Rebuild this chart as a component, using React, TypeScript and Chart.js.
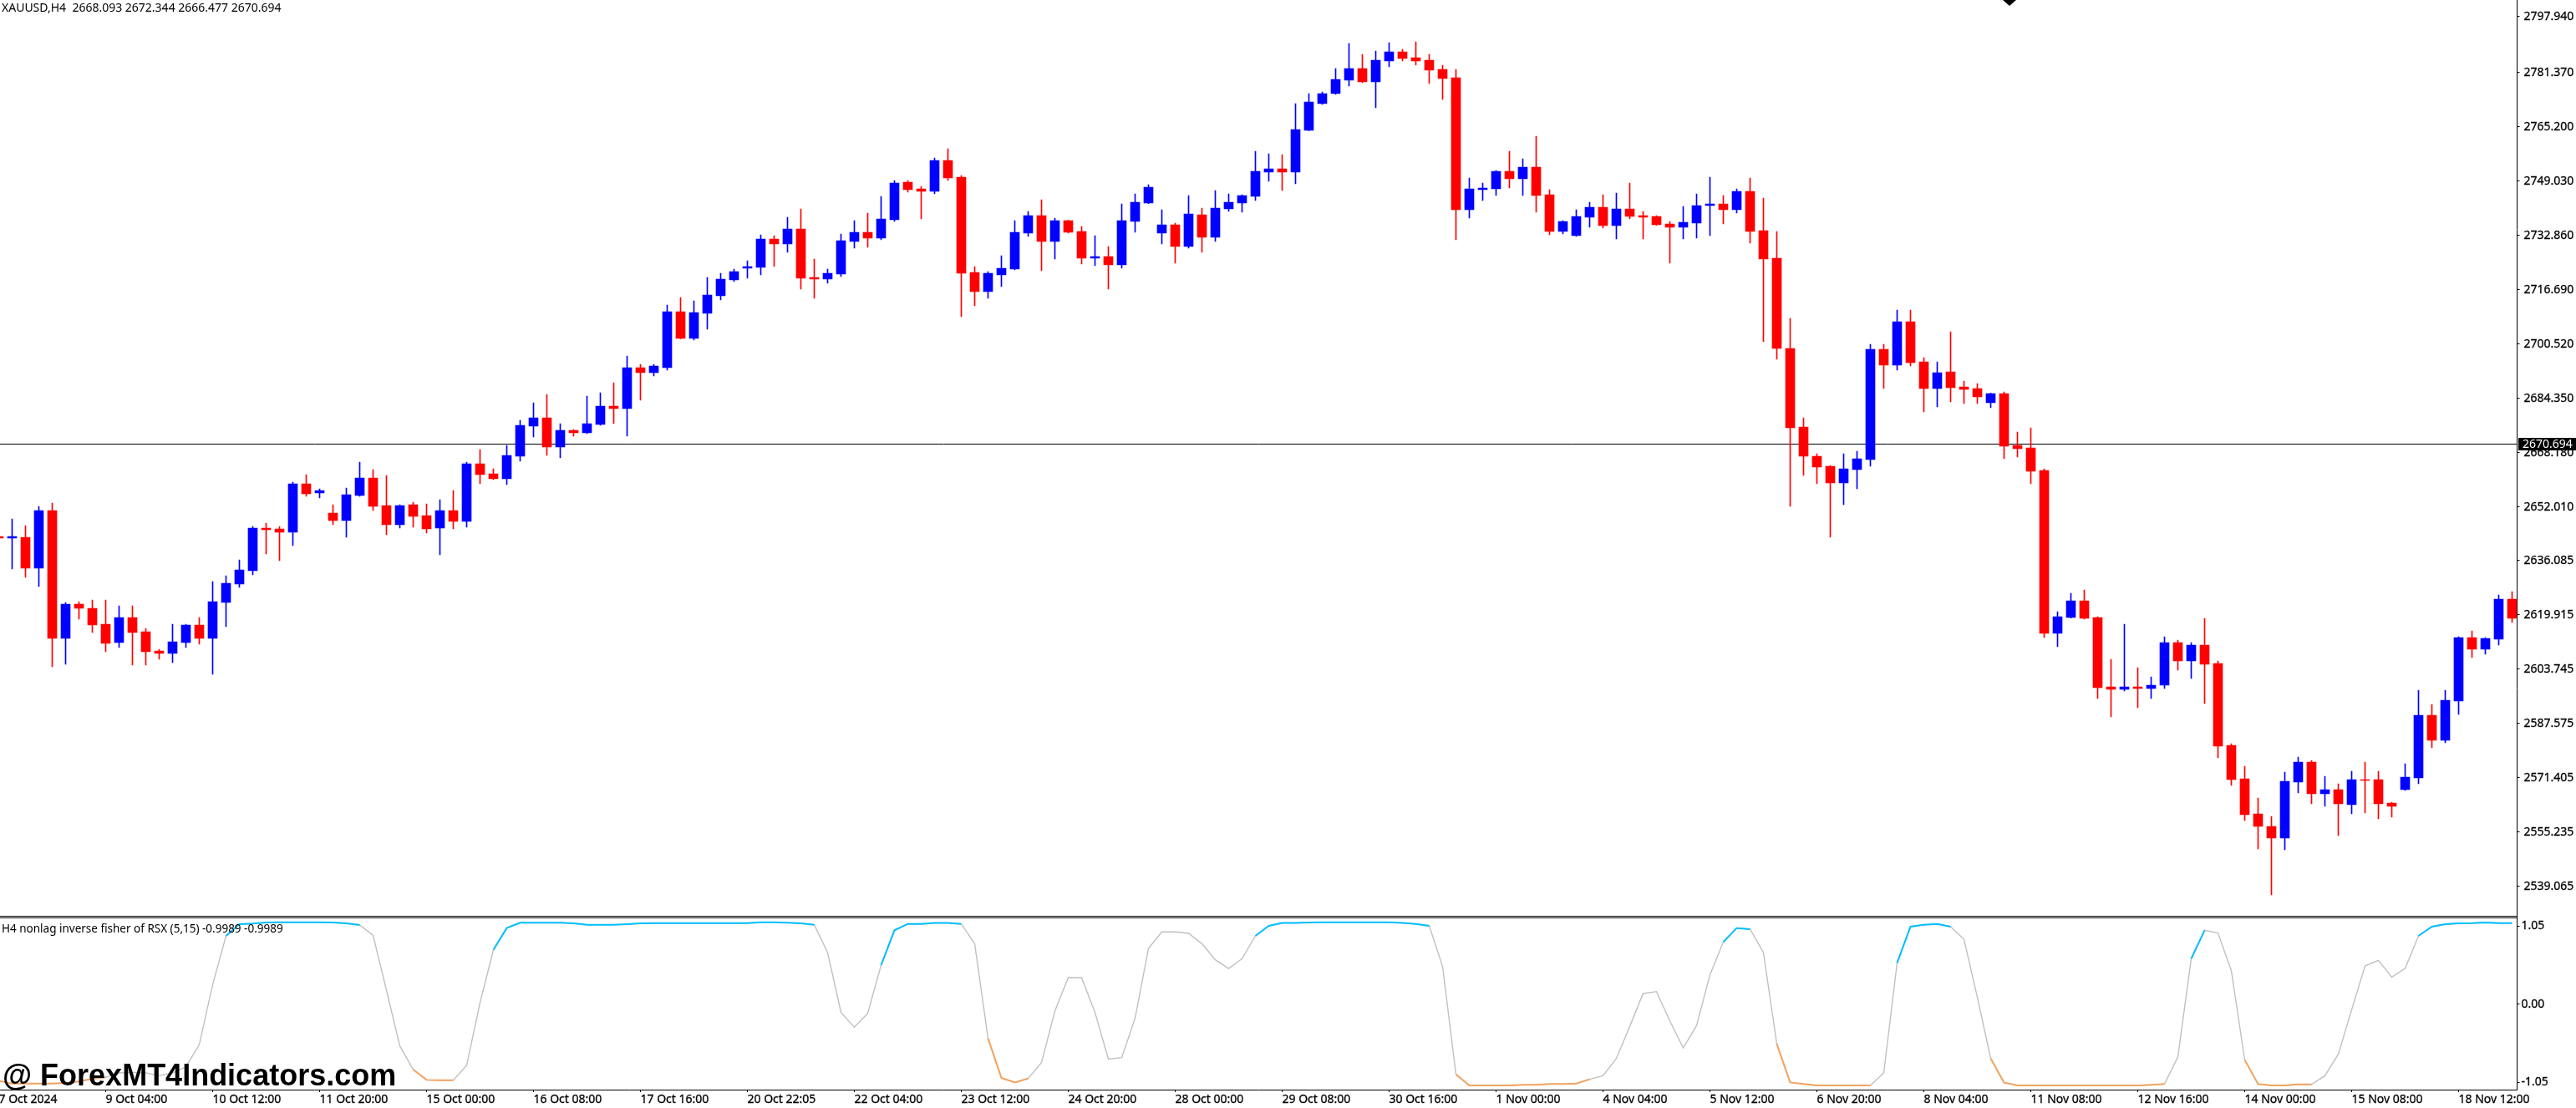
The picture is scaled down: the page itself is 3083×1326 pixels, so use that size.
import React, { useEffect, useRef } from "react";
import Chart from "chart.js/auto";

const symbolCaption = "XAUUSD,H4  2668.093 2672.344 2666.477 2670.694";
const indicatorCaption = "H4 nonlag inverse fisher of RSX (5,15) -0.9989 -0.9989";
const watermark = "@ ForexMT4Indicators.com";
const lastPrice = 2670.694;

const opens = [
	2643.2, 2642.7, 2642.95, 2633.75, 2650.91, 2612.85, 2623.05, 2621.81, 2617.08, 2611.61,
	2619.07, 2614.84, 2609.12, 2608.38, 2611.61, 2616.83, 2612.85, 2623.55, 2629.02, 2633.0,
	2645.69, 2645.44, 2644.45, 2658.87, 2656.14, 2650.17, 2647.93, 2655.39, 2660.61, 2652.41,
	2646.68, 2652.65, 2649.42, 2645.69, 2650.91, 2647.68, 2664.85, 2661.86, 2660.37, 2667.09,
	2676.04, 2678.53, 2669.82, 2674.8, 2674.05, 2676.54, 2682.02, 2681.27, 2693.46, 2691.97,
	2693.46, 2710.13, 2702.17, 2709.63, 2714.85, 2719.58, 2723.06, 2723.31, 2731.77, 2730.28,
	2734.75, 2720.33, 2719.83, 2721.32, 2731.02, 2733.76, 2732.02, 2737.49, 2748.68, 2746.69,
	2745.95, 2755.15, 2750.18, 2721.82, 2716.1, 2721.07, 2722.81, 2733.51, 2738.73, 2731.02,
	2737.24, 2734.01, 2726.05, 2726.54, 2724.06, 2736.99, 2742.47, 2733.51, 2736.0, 2729.53,
	2738.98, 2732.27, 2740.72, 2742.47, 2744.45, 2751.67, 2752.66, 2751.67, 2764.11, 2772.07,
	2775.05, 2779.03, 2782.51, 2778.53, 2784.75, 2787.49, 2785.75, 2785.0, 2782.27, 2779.78,
	2740.47, 2746.44, 2746.69, 2751.92, 2749.68, 2753.16, 2744.95, 2734.01, 2732.76, 2738.24,
	2741.22, 2735.75, 2740.72, 2738.73, 2738.48, 2736.25, 2735.25, 2736.49, 2741.72, 2742.22,
	2740.47, 2745.95, 2734.26, 2726.05, 2699.17, 2675.79, 2667.08, 2664.1, 2659.12, 2663.1,
	2666.09, 2698.92, 2694.2, 2707.13, 2695.19, 2687.23, 2692.21, 2687.73, 2687.23, 2683.0,
	2685.74, 2670.32, 2669.57, 2662.85, 2614.35, 2619.07, 2624.05, 2619.07, 2598.43, 2597.68,
	2598.43, 2597.93, 2598.92, 2611.61, 2606.14, 2610.86, 2605.39, 2581.01, 2571.06, 2560.62,
	2556.88, 2553.4, 2570.07, 2576.04, 2566.58, 2567.83, 2563.35, 2570.81, 2570.81, 2563.85,
	2567.83, 2571.31, 2589.97, 2582.51, 2594.2, 2613.1, 2609.62, 2612.61, 2624.55,
];
const highs = [
	2643.5, 2648.43, 2646.44, 2652.16, 2653.15, 2623.55, 2623.8, 2624.3, 2624.3, 2622.55,
	2622.55, 2615.84, 2609.62, 2617.08, 2617.08, 2619.07, 2629.77, 2631.51, 2636.24, 2646.19,
	2647.18, 2646.19, 2659.37, 2661.61, 2657.38, 2652.65, 2657.63, 2665.3, 2663.1, 2661.36,
	2652.65, 2653.4, 2652.9, 2654.15, 2656.88, 2665.35, 2669.08, 2663.36, 2670.32, 2677.78,
	2683.01, 2685.5, 2676.79, 2675.05, 2685.0, 2685.99, 2688.98, 2696.94, 2694.45, 2694.45,
	2712.12, 2714.36, 2713.36, 2720.33, 2721.57, 2722.81, 2725.3, 2733.01, 2732.76, 2738.24,
	2740.72, 2725.8, 2722.81, 2733.26, 2737.24, 2739.48, 2744.46, 2749.18, 2749.18, 2747.44,
	2755.9, 2758.63, 2750.67, 2723.56, 2722.07, 2726.79, 2737.24, 2739.98, 2743.46, 2737.99,
	2737.4, 2735.5, 2732.76, 2729.53, 2742.22, 2745.2, 2747.94, 2740.48, 2736.5, 2744.7,
	2740.97, 2746.2, 2745.2, 2744.9, 2757.89, 2757.14, 2756.89, 2772.07, 2775.05, 2775.55,
	2782.51, 2789.98, 2786.74, 2787.74, 2790.23, 2788.24, 2790.47, 2786.74, 2783.51, 2782.27,
	2749.93, 2748.43, 2752.17, 2757.89, 2755.65, 2762.37, 2746.44, 2737.2, 2740.47, 2742.71,
	2744.95, 2745.45, 2748.43, 2739.98, 2738.73, 2736.99, 2741.47, 2745.2, 2750.18, 2744.7,
	2746.69, 2749.93, 2743.96, 2734.01, 2708.13, 2678.53, 2667.83, 2664.35, 2667.83, 2668.58,
	2700.42, 2700.42, 2710.62, 2710.62, 2696.44, 2695.19, 2704.15, 2689.47, 2688.73, 2685.9,
	2686.24, 2674.3, 2675.54, 2663.35, 2620.81, 2626.29, 2627.28, 2619.3, 2606.64, 2617.08,
	2604.15, 2601.41, 2613.35, 2612.36, 2611.61, 2618.82, 2606.14, 2581.51, 2574.79, 2565.34,
	2559.87, 2573.05, 2577.53, 2576.54, 2571.81, 2569.57, 2573.3, 2576.04, 2573.3, 2564.0,
	2575.54, 2597.43, 2593.2, 2597.43, 2613.35, 2615.09, 2613.1, 2625.79, 2626.78,
];
const lows = [
	2642.4, 2633.5, 2631.01, 2628.28, 2604.4, 2605.14, 2618.57, 2614.59, 2608.87, 2610.12,
	2604.89, 2604.89, 2606.63, 2605.64, 2610.12, 2611.11, 2602.16, 2616.34, 2628.03, 2631.76,
	2637.98, 2635.99, 2640.47, 2655.14, 2654.64, 2646.68, 2642.95, 2655.14, 2650.91, 2643.7,
	2645.69, 2645.94, 2644.2, 2637.73, 2645.44, 2645.94, 2658.88, 2660.12, 2658.63, 2665.59,
	2672.81, 2667.34, 2666.59, 2673.06, 2673.8, 2676.29, 2676.79, 2673.06, 2683.76, 2690.97,
	2692.71, 2702.0, 2701.67, 2704.9, 2713.61, 2719.08, 2720.08, 2721.07, 2723.56, 2727.79,
	2716.84, 2714.11, 2718.58, 2720.57, 2729.03, 2729.28, 2731.52, 2736.99, 2745.7, 2737.74,
	2745.2, 2749.18, 2708.63, 2711.87, 2714.11, 2717.59, 2722.6, 2732.52, 2722.32, 2725.8,
	2733.51, 2724.31, 2723.81, 2716.84, 2723.06, 2733.76, 2742.3, 2730.28, 2724.55, 2729.03,
	2727.79, 2731.02, 2739.98, 2739.73, 2743.21, 2748.93, 2746.2, 2748.19, 2764.0, 2771.82,
	2774.8, 2777.29, 2778.29, 2770.82, 2783.01, 2784.75, 2783.51, 2778.04, 2773.31, 2731.52,
	2737.99, 2743.21, 2744.7, 2746.94, 2744.7, 2739.73, 2733.01, 2733.26, 2732.51, 2735.25,
	2735.0, 2731.77, 2737.74, 2731.77, 2735.8, 2724.55, 2731.77, 2732.02, 2732.76, 2736.25,
	2739.48, 2730.52, 2701.17, 2695.94, 2652.16, 2661.36, 2658.87, 2642.95, 2652.65, 2657.38,
	2664.1, 2687.23, 2692.71, 2693.95, 2680.27, 2681.76, 2683.25, 2682.76, 2682.76, 2681.51,
	2666.34, 2666.83, 2658.87, 2613.1, 2610.37, 2618.9, 2618.58, 2594.94, 2589.47, 2597.18,
	2592.21, 2594.94, 2597.93, 2603.4, 2600.91, 2593.45, 2577.28, 2569.07, 2558.62, 2550.17,
	2536.48, 2549.92, 2566.83, 2563.6, 2562.85, 2554.15, 2560.62, 2560.86, 2559.12, 2559.62,
	2567.6, 2569.57, 2580.27, 2581.76, 2590.22, 2607.13, 2608.13, 2610.86, 2617.58,
];
const closes = [
	2642.7, 2643.2, 2633.75, 2650.91, 2612.85, 2623.05, 2621.81, 2616.83, 2611.36, 2619.07,
	2614.59, 2608.87, 2608.38, 2611.86, 2616.83, 2612.85, 2623.8, 2629.27, 2633.25, 2645.69,
	2645.19, 2644.45, 2658.87, 2655.89, 2656.88, 2647.93, 2655.64, 2660.61, 2652.16, 2646.68,
	2652.41, 2649.17, 2645.44, 2650.91, 2647.68, 2664.85, 2661.61, 2660.37, 2667.34, 2676.29,
	2678.53, 2669.82, 2674.8, 2674.05, 2676.79, 2682.01, 2681.27, 2693.46, 2691.97, 2693.96,
	2710.13, 2702.17, 2709.88, 2715.1, 2719.83, 2722.07, 2723.56, 2731.77, 2730.28, 2734.75,
	2720.08, 2719.83, 2721.57, 2731.27, 2733.76, 2732.02, 2737.74, 2748.44, 2746.45, 2745.95,
	2755.15, 2749.93, 2721.57, 2716.1, 2721.57, 2723.06, 2733.76, 2738.73, 2731.02, 2737.24,
	2733.76, 2726.05, 2726.54, 2724.06, 2737.24, 2742.71, 2747.19, 2736.0, 2729.53, 2739.23,
	2732.27, 2740.97, 2742.71, 2744.7, 2751.92, 2752.66, 2751.67, 2764.35, 2772.56, 2775.05,
	2779.28, 2782.51, 2778.53, 2785.0, 2787.49, 2785.5, 2784.75, 2782.02, 2779.53, 2740.47,
	2746.69, 2746.94, 2751.92, 2749.68, 2753.16, 2744.7, 2734.01, 2736.99, 2738.48, 2741.22,
	2735.75, 2740.72, 2738.48, 2738.24, 2736.0, 2735.25, 2736.74, 2741.72, 2742.22, 2740.47,
	2745.95, 2734.01, 2725.8, 2699.18, 2675.54, 2667.08, 2663.85, 2659.12, 2663.35, 2666.34,
	2698.92, 2694.2, 2707.13, 2694.94, 2687.23, 2691.96, 2687.48, 2686.98, 2684.74, 2685.74,
	2670.07, 2669.32, 2662.61, 2614.35, 2619.32, 2624.05, 2618.82, 2598.18, 2597.68, 2598.43,
	2597.93, 2598.92, 2611.61, 2606.14, 2610.86, 2605.14, 2580.76, 2570.81, 2560.37, 2556.88,
	2553.4, 2570.32, 2576.04, 2566.58, 2567.83, 2563.6, 2570.81, 2570.56, 2563.6, 2562.85,
	2571.56, 2589.97, 2582.51, 2594.45, 2613.1, 2609.62, 2612.85, 2624.55, 2618.82,
];

const rsxValues = [
	-1.031, -1.069, -1.069, -1.069, -1.069, -1.061, -1.042, -1.005, -0.986, -0.926,
	-0.919, -0.926, -0.964, -0.926, -0.844, -0.544, 0.263, 0.919, 1.077, 1.084,
	1.099, 1.103, 1.103, 1.103, 1.103, 1.099, 1.088, 1.065, 0.926, 0.188,
	-0.562, -0.881, -1.02, -1.024, -1.024, -0.825, 0.019, 0.731, 1.024, 1.095,
	1.095, 1.095, 1.095, 1.088, 1.069, 1.069, 1.069, 1.077, 1.088, 1.091,
	1.091, 1.091, 1.091, 1.091, 1.091, 1.091, 1.091, 1.103, 1.103, 1.095,
	1.088, 1.069, 0.694, -0.112, -0.311, -0.124, 0.525, 0.994, 1.08, 1.08,
	1.092, 1.092, 1.08, 0.814, -0.461, -0.994, -1.054, -1.001, -0.787, -0.094,
	0.357, 0.357, -0.112, -0.739, -0.72, -0.187, 0.75, 0.972, 0.972, 0.953,
	0.814, 0.597, 0.48, 0.612, 0.919, 1.054, 1.092, 1.092, 1.099, 1.103,
	1.103, 1.103, 1.103, 1.103, 1.103, 1.092, 1.08, 1.054, 0.507, -0.945,
	-1.095, -1.095, -1.095, -1.095, -1.087, -1.087, -1.076, -1.076, -1.069, -1.012,
	-0.964, -0.731, -0.3, 0.143, 0.169, -0.225, -0.589, -0.289, 0.394, 0.837,
	1.024, 1.009, 0.694, -0.536, -1.054, -1.076, -1.095, -1.095, -1.095, -1.095,
	-1.095, -0.926, 0.555, 1.043, 1.069, 1.08, 1.043, 0.874, 0.094, -0.731,
	-1.057, -1.095, -1.095, -1.095, -1.095, -1.095, -1.095, -1.095, -1.095, -1.095,
	-1.095, -1.087, -1.076, -0.712, 0.612, 0.994, 0.957, 0.45, -0.75, -1.076,
	-1.095, -1.095, -1.08, -1.08, -0.964, -0.675, -0.075, 0.514, 0.589, 0.364,
	0.48, 0.919, 1.043, 1.077, 1.088, 1.091, 1.099, 1.091, 1.091,
];
// first and last bar of each coloured stretch of the indicator
const upRuns = [[17, 27], [37, 61], [66, 72], [94, 107], [129, 131], [142, 146], [164, 165], [181, 188]];
const downRuns = [[0, 8], [31, 34], [74, 77], [109, 119], [133, 140], [149, 162], [168, 173]];

const priceTicks = [
	2797.94, 2781.37, 2765.2, 2749.03, 2732.86, 2716.69, 2700.52, 2684.35, 2668.18,
	2652.01, 2636.085, 2619.915, 2603.745, 2587.575, 2571.405, 2555.235, 2539.065,
];
const rsxTicks = [1.05, 0, -1.05];
const timeLabels = [
	"7 Oct 2024", "9 Oct 04:00", "10 Oct 12:00", "11 Oct 20:00", "15 Oct 00:00", "16 Oct 08:00",
	"17 Oct 16:00", "20 Oct 22:05", "22 Oct 04:00", "23 Oct 12:00", "24 Oct 20:00", "28 Oct 00:00",
	"29 Oct 08:00", "30 Oct 16:00", "1 Nov 00:00", "4 Nov 04:00", "5 Nov 12:00", "6 Nov 20:00",
	"8 Nov 04:00", "11 Nov 08:00", "12 Nov 16:00", "14 Nov 00:00", "15 Nov 08:00", "18 Nov 12:00",
];
const barsPerLabel = 8;

const BLUE = "#0000ff";
const RED = "#ff0000";
const AXIS_FONT = { family: "'Noto Sans'", size: 14 };
const TEXT_WEIGHT = { textStrokeColor: "#000", textStrokeWidth: 0.3 };
const X_MIN = 0.09375;
const X_MAX = 188.375;

const inRuns = (i: number, runs: number[][]) => runs.some(([a, b]) => i >= a && i <= b);
const rsxPoints = (runs?: number[][]) =>
	rsxValues.map((v, i) => ({ x: i, y: !runs || inRuns(i, runs) ? v : null }));

// keeps the axes at the sizes of the terminal window, no label padding around the plot
const fixAxis = (size: { width?: number; height?: number }) => (scale: any) => {
	if (size.width) scale.width = size.width;
	if (size.height) scale.height = size.height;
	scale.paddingLeft = scale.paddingRight = scale.paddingTop = scale.paddingBottom = 0;
};

const overlay = {
	id: "overlay",
	afterDraw(chart: any) {
		const { ctx, scales } = chart;
		ctx.save();
		ctx.fillStyle = "#000";
		// double line between the two panes
		ctx.fillRect(0, scales.y.bottom - 1, 3013, 1);
		ctx.fillRect(0, scales.y.bottom + 1, 3013, 1);
		// object arrow cut off by the window top
		ctx.beginPath();
		ctx.moveTo(2397, 0);
		ctx.lineTo(2413, 0);
		ctx.lineTo(2405, 7);
		ctx.fill();

		ctx.textBaseline = "middle";
		ctx.font = "14px 'Noto Sans'";
		ctx.fillText(symbolCaption, 2, 10);
		ctx.font = "13.5px 'Noto Sans'";
		ctx.fillText(indicatorCaption, 2, 1112);
		ctx.font = "bold 36px 'Liberation Sans'";
		ctx.textBaseline = "alphabetic";
		ctx.fillText(watermark, 3, 1299);

		// current price tag
		const py = Math.round(scales.y.getPixelForValue(lastPrice));
		ctx.fillRect(3014, py - 7, 69, 15);
		ctx.fillStyle = "#fff";
		ctx.textBaseline = "middle";
		ctx.font = "14px 'Noto Sans'";
		ctx.fillText(lastPrice.toFixed(3), 3019, py + 1);
		ctx.restore();
	},
};

const App: React.FC = () => {
	const chartRef = useRef<HTMLCanvasElement>(null);

	useEffect(() => {
		if (!chartRef.current) return;
		const barColors = closes.map((c, i) => (c >= opens[i] ? BLUE : RED));
		const chart = new Chart(chartRef.current, {
			type: "bar",
			data: {
				datasets: [
					{
						label: "body",
						data: opens.map((o, i) => ({ x: i, y: [o, closes[i]] })) as any,
						backgroundColor: barColors,
						barThickness: 11,
						grouped: false,
						yAxisID: "y",
						order: 1,
					},
					{
						label: "wick",
						data: lows.map((l, i) => ({ x: i, y: [l, highs[i]] })) as any,
						backgroundColor: barColors,
						barThickness: 1,
						grouped: false,
						yAxisID: "y",
						order: 2,
					},
					{
						type: "line",
						label: "last price",
						data: [{ x: X_MIN, y: lastPrice }, { x: X_MAX, y: lastPrice }],
						borderColor: "#000",
						borderWidth: 1,
						pointRadius: 0,
						yAxisID: "y",
						order: 3,
					},
					{
						type: "line",
						label: "rsx up",
						data: rsxPoints(upRuns) as any,
						borderColor: "#00bfff",
						borderWidth: 2,
						pointRadius: 0,
						spanGaps: false,
						yAxisID: "y2",
						order: 4,
					},
					{
						type: "line",
						label: "rsx down",
						data: rsxPoints(downRuns) as any,
						borderColor: "#f4a460",
						borderWidth: 2,
						pointRadius: 0,
						spanGaps: false,
						yAxisID: "y2",
						order: 5,
					},
					{
						type: "line",
						label: "rsx",
						data: rsxPoints() as any,
						borderColor: "#c0c0c0",
						borderWidth: 1.4,
						pointRadius: 0,
						yAxisID: "y2",
						order: 6,
					},
				],
			},
			options: {
				responsive: false,
				animation: false,
				devicePixelRatio: 1,
				layout: { padding: 0 },
				plugins: { legend: { display: false }, tooltip: { enabled: false }, title: { display: false } },
				scales: {
					x: {
						type: "linear",
						min: X_MIN,
						max: X_MAX,
						bounds: "data",
						offset: false,
						afterFit: fixAxis({ height: 22 }),
						afterBuildTicks: (scale: any) => {
							scale.ticks = timeLabels.map((_, i) => ({ value: i * barsPerLabel }));
						},
						grid: { drawOnChartArea: false, tickLength: 3, color: "#000", offset: false },
						border: { color: "#000" },
						ticks: {
							autoSkip: false,
							maxRotation: 0,
							align: "start",
							padding: 1,
							color: "#000",
							font: AXIS_FONT,
							...TEXT_WEIGHT,
							callback: (_v: any, i: number) => timeLabels[i],
						},
					},
					y: {
						type: "linear",
						position: "right",
						stack: "panes",
						stackWeight: 1097,
						min: 2530.02,
						max: 2802.91,
						bounds: "data",
						afterFit: fixAxis({ width: 70.5 }),
						afterBuildTicks: (scale: any) => {
							scale.ticks = priceTicks.map((value) => ({ value }));
						},
						grid: { drawOnChartArea: false, tickLength: 3, color: "#000" },
						border: { color: "#000" },
						ticks: {
							autoSkip: false,
							padding: 5,
							color: "#000",
							font: AXIS_FONT,
							...TEXT_WEIGHT,
							callback: (v: any) => Number(v).toFixed(3),
						},
					},
					y2: {
						type: "linear",
						position: "right",
						stack: "panes",
						stackWeight: 207,
						min: -1.1507,
						max: 1.1777,
						bounds: "data",
						afterFit: fixAxis({ width: 70.5 }),
						afterBuildTicks: (scale: any) => {
							scale.ticks = rsxTicks.map((value) => ({ value }));
						},
						grid: { drawOnChartArea: false, tickLength: 3, color: "#000" },
						border: { color: "#000" },
						ticks: {
							autoSkip: false,
							padding: 2,
							color: "#000",
							font: AXIS_FONT,
							...TEXT_WEIGHT,
							callback: (v: any) => Number(v).toFixed(2),
						},
					},
				},
			},
			plugins: [overlay],
		});

		return () => {
			chart.destroy();
		};
	}, []);

	return (
		<div style={{ position: "absolute", left: 0, top: 0, width: 3083, height: 1326, background: "#fff", overflow: "hidden" }}>
			<canvas ref={chartRef} width={3083} height={1326} style={{ display: "block" }} />
		</div>
	);
};

export default App;
